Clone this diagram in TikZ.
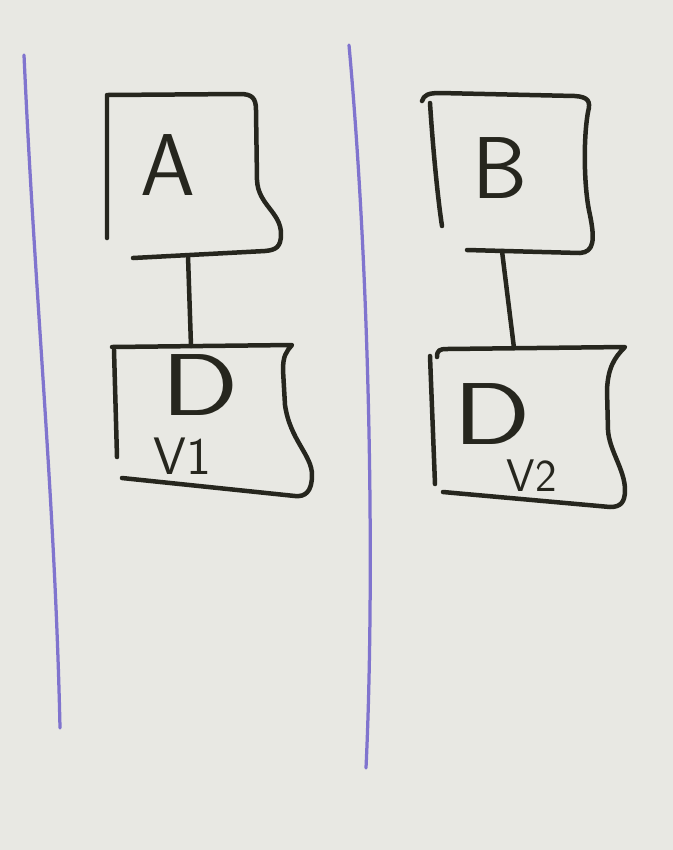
\documentclass[tikz,border=0pt]{standalone}
\usepackage{fontspec}
\definecolor{board}{RGB}{232,232,227}
\definecolor{ink}{RGB}{38,38,30}
\definecolor{violetpen}{RGB}{128,116,206}
\begin{document}
\begin{tikzpicture}[x=0.02cm,y=-0.02cm,
    pen/.style={line width=0.09cm,color=ink,line cap=round,line join=round},
    violetline/.style={line width=0.065cm,color=violetpen,line cap=round},
    hand/.style={inner sep=0pt,text=ink,font=\sffamily\fontsize{50}{50}\selectfont},
    handwide/.style={hand,xscale=1.3,transform shape},
    handsmall/.style={inner sep=0pt,text=ink,font=\sffamily\fontsize{30}{30}\selectfont},
    handtiny/.style={inner sep=0pt,text=ink,font=\sffamily\fontsize{26}{26}\selectfont}]
            % Board
            \fill[board] (0,0) rectangle (673,850);%
            \useasboundingbox (0,0) rectangle (673,850);%

            % Drawing left divider
            \draw[violetline] (24,55) .. controls (35,300) and (55,500) .. (60,728);%

            % Drawing right divider
            \draw[violetline] (349,45) .. controls (372,300) and (374,600) .. (366,768);%

            % Drawing box A
            \draw[pen] (107,238) -- (107,95) -- (240,94) .. controls (252,94) and (256,98) .. (256,110) -- (257,180) .. controls (258,205) and (281,212) .. (281,234) .. controls (281,247) and (276,250) .. (265,251) -- (133,258);%
            \node[hand] (labelA) at (168,165) {A};%

            % Drawing box B
            \draw[pen] (422,101) .. controls (424,95) and (428,93) .. (440,93) -- (575,96) .. controls (588,97) and (591,101) .. (588,112) .. controls (583,140) and (584,190) .. (590,215) .. controls (595,240) and (594,252) .. (580,253) -- (467,250);%
            \draw[pen] (430,103) .. controls (433,150) and (438,200) .. (442,226);%
            \node[hand] (labelB) at (500,168) {B};%

            % Drawing box D V1
            \draw[pen] (112,347) -- (292,345) .. controls (286,352) and (283,356) .. (283,370) -- (285,405) .. controls (290,440) and (312,455) .. (312,475) .. controls (312,492) and (305,497) .. (295,496) -- (122,478);%
            \draw[pen] (114,350) -- (117,457);%
            \node[handwide] (labelDone) at (200,385) {D};%
            \node[handsmall] (labelVone) at (182,456) {V1};%

            % Drawing box D V2
            \draw[pen] (437,357) .. controls (437,350) and (440,349) .. (447,349) -- (625,347) .. controls (614,358) and (608,368) .. (607,390) -- (608,430) .. controls (609,450) and (625,470) .. (625,490) .. controls (625,503) and (620,507) .. (610,507) -- (443,492);%
            \draw[pen] (430,356) -- (435,484);%
            \node[handwide] (labelDtwo) at (492,414) {D};%
            \node[handtiny] (labelVtwo) at (532,476) {V2};%

            % Drawing links
            \coordinate (footA) at (188,256);%
            \coordinate (headDone) at (191,346);%
            \draw[pen] (footA) -- (headDone);%
            \coordinate (footB) at (502,251);%
            \coordinate (headDtwo) at (514,348);%
            \draw[pen] (footB) -- (headDtwo);%
\end{tikzpicture}
\end{document}
